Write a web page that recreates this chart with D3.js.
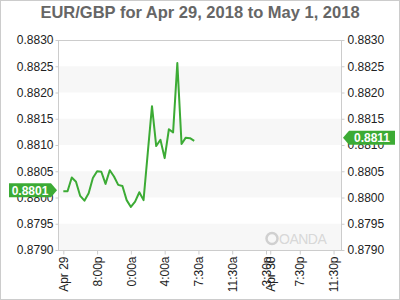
<!DOCTYPE html>
<html>
<head>
<meta charset="utf-8">
<script src="https://cdn.jsdelivr.net/npm/d3@7"></script>
<style>
  body { margin: 0; background: #fff; }
  svg text { font-family: "Liberation Sans", Arial, sans-serif; }
</style>
</head>
<body>
<div id="chart"></div>
<script>
// hours from the first tick ("Apr 29"), half hour bars
var hours = [0, 0.5, 1, 1.5, 2, 2.5, 3, 3.5, 4, 4.5, 5, 5.5, 6, 6.5, 7, 7.5,
             8, 8.5, 9, 9.5, 10, 10.5, 11, 11.5, 12, 12.5, 13, 13.5, 14, 14.5, 15, 15.5];
var rates = [0.88012, 0.88012, 0.88038, 0.88030, 0.88003, 0.87994, 0.88008, 0.88037,
             0.88050, 0.88049, 0.88026, 0.88052, 0.88040, 0.88024, 0.88022, 0.87995,
             0.87982, 0.87992, 0.88010, 0.87995, 0.88085, 0.88174, 0.88098, 0.88110,
             0.88075, 0.88130, 0.88124, 0.88256, 0.88102, 0.88114, 0.88113, 0.88108];

var tickHours = [0, 4, 8, 12, 16, 20, 24, 24.5, 28, 32];
var tickLabels = ["Apr 29", "8:00p", "0:00a", "4:00a", "7:30a", "11:30a", "3:30p", "Apr 30", "7:30p", "11:30p"];
var yTicks = [0.8790, 0.8795, 0.8800, 0.8805, 0.8810, 0.8815, 0.8820, 0.8825, 0.8830];

var openRate = 0.8801, lastRate = 0.8811;

var width = 400, height = 300;
var plot = { left: 58, right: 342, top: 40, bottom: 250 };
var green = "#3cab35";

var svg = d3.select("#chart").append("svg")
    .attr("width", width)
    .attr("height", height);

// outer border
svg.append("rect")
    .attr("x", 0.5).attr("y", 0.5)
    .attr("width", width - 1).attr("height", height - 1)
    .attr("fill", "#fff").attr("stroke", "#ccc");

var x = d3.scaleLinear()
    .domain([-0.63, 33.0])
    .range([plot.left, plot.right]);

var y = d3.scaleLinear()
    .domain([0.8790, 0.8830])
    .range([plot.bottom, plot.top]);

// alternating bands
var bands = [0.8790, 0.8800, 0.8810, 0.8820];
svg.selectAll(".band")
    .data(bands)
  .enter().append("rect")
    .attr("class", "band")
    .attr("x", plot.left)
    .attr("width", plot.right - plot.left)
    .attr("y", function(d) { return y(d + 0.0005); })
    .attr("height", function(d) { return y(d) - y(d + 0.0005); })
    .attr("fill", "#f7f7f7");

// watermark
var wm = svg.append("g").attr("fill", "#d8d8d8");
wm.append("circle")
    .attr("cx", 272).attr("cy", 238.5).attr("r", 5.5)
    .attr("fill", "none").attr("stroke", "#d0d0d0").attr("stroke-width", 2.5);
wm.append("text")
    .attr("x", 279).attr("y", 244)
    .style("font-size", "14px")
    .style("letter-spacing", "-0.5px")
    .text("OANDA");

// frame
svg.append("rect")
    .attr("x", plot.left + 0.5).attr("y", plot.top + 0.5)
    .attr("width", plot.right - plot.left - 1)
    .attr("height", plot.bottom - plot.top)
    .attr("fill", "none").attr("stroke", "#ccc");

// y axes
var fmt = d3.format(".4f");
var yLeft = svg.append("g")
    .attr("transform", "translate(" + (plot.left + 0.5) + ",0)")
    .call(d3.axisLeft(y).tickValues(yTicks).tickFormat(fmt).tickSize(3).tickPadding(2));
var yRight = svg.append("g")
    .attr("transform", "translate(" + (plot.right - 0.5) + ",0)")
    .call(d3.axisRight(y).tickValues(yTicks).tickFormat(fmt).tickSize(3).tickPadding(3));

[yLeft, yRight].forEach(function(g) {
    g.select(".domain").remove();
    g.selectAll("line").attr("stroke", "#ccc");
    g.selectAll("text").attr("fill", "#222").style("font-size", "12px");
});

// x axis
var xAxis = svg.append("g")
    .attr("transform", "translate(0," + (plot.bottom + 0.5) + ")")
    .call(d3.axisBottom(x).tickValues(tickHours)
        .tickFormat(function(d, i) { return tickLabels[i]; })
        .tickSize(4));
xAxis.select(".domain").remove();
xAxis.selectAll("line").attr("stroke", "#ccc");
xAxis.selectAll("text")
    .attr("fill", "#222")
    .style("font-size", "12px")
    .attr("text-anchor", "end")
    .attr("transform", "rotate(-90)")
    .attr("x", -6)
    .attr("y", 0)
    .attr("dy", "0.35em");

// price line
var line = d3.line()
    .x(function(d, i) { return x(hours[i]); })
    .y(function(d) { return y(d); });

svg.append("path")
    .datum(rates)
    .attr("d", line)
    .attr("fill", "none")
    .attr("stroke", green)
    .attr("stroke-width", 2)
    .attr("stroke-linejoin", "round");

// open / last labels
function tag(value, side) {
    var cy = y(value) - 2, h = 14, w = 44, tip = 6;
    var g = svg.append("g");
    var pts;
    if (side === "left") {
        var x1 = plot.left - 1, x0 = x1 - tip - w + 2;
        pts = [[x0, cy - h / 2], [x1 - tip, cy - h / 2], [x1, cy], [x1 - tip, cy + h / 2], [x0, cy + h / 2]];
        g.append("polygon").attr("points", pts.join(" ")).attr("fill", green);
        g.append("text").attr("x", (x0 + x1 - tip) / 2).attr("y", cy)
            .attr("dy", "0.36em").attr("text-anchor", "middle")
            .attr("fill", "#fff").style("font-size", "12px").style("font-weight", "bold")
            .text(fmt(value));
    } else {
        var x0r = plot.right + 1, x1r = x0r + tip + w + 2;
        pts = [[x0r, cy], [x0r + tip, cy - h / 2], [x1r, cy - h / 2], [x1r, cy + h / 2], [x0r + tip, cy + h / 2]];
        g.append("polygon").attr("points", pts.join(" ")).attr("fill", green);
        g.append("text").attr("x", (x0r + tip + x1r) / 2).attr("y", cy)
            .attr("dy", "0.36em").attr("text-anchor", "middle")
            .attr("fill", "#fff").style("font-size", "12px").style("font-weight", "bold")
            .text(fmt(value));
    }
}
tag(openRate, "left");
tag(lastRate, "right");

// title
svg.append("text")
    .attr("x", width / 2).attr("y", 18)
    .attr("text-anchor", "middle")
    .attr("fill", "#666")
    .style("font-size", "16.5px")
    .style("font-weight", "bold")
    .text("EUR/GBP for Apr 29, 2018 to May 1, 2018");
</script>
</body>
</html>
